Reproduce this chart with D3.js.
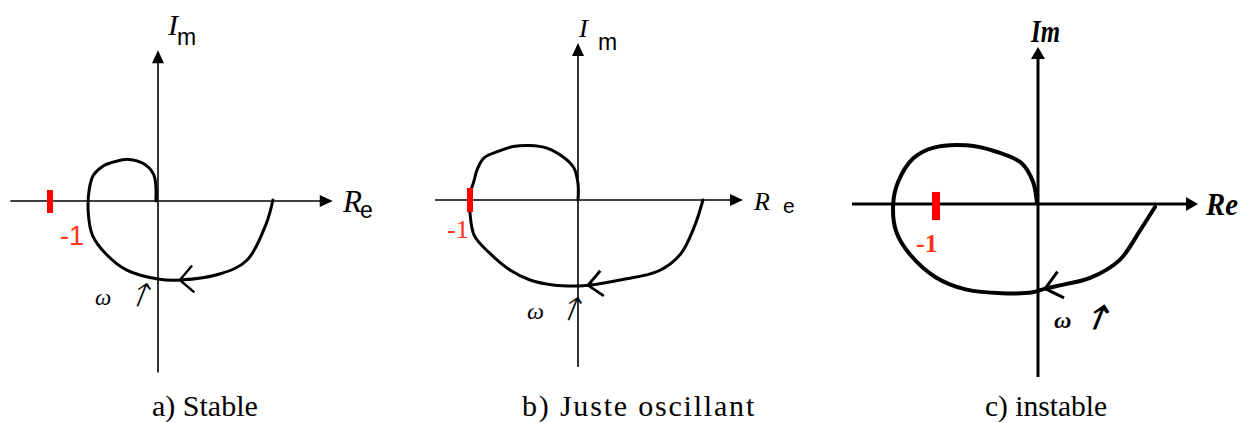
<!DOCTYPE html>
<html>
<head>
<meta charset="utf-8">
<script src="https://cdn.jsdelivr.net/npm/d3@7"></script>
<style>
  html, body { margin: 0; padding: 0; background: #fff; }
  svg { display: block; }
</style>
</head>
<body>
<svg id="chart" width="1252" height="423"></svg>
<script>
// Nyquist loci of the open-loop transfer function, [Re, Im] in units of the
// critical point (-1, 0), listed in order of increasing frequency ω.
const locusStable = [
  [1.105, 0.01], [1.04, -0.22], [0.855, -0.57], [0.60, -0.70], [0.21, -0.76],
  [0, -0.75], [-0.30, -0.665], [-0.50, -0.51], [-0.63, -0.33], [-0.67, -0.12],
  [-0.66, 0.12], [-0.62, 0.25], [-0.53, 0.335], [-0.41, 0.38], [-0.28, 0.40],
  [-0.14, 0.36], [-0.04, 0.25], [-0.02, 0]
];
const locusLimit = [
  [1.157, 0], [1.08, -0.24], [0.95, -0.50], [0.75, -0.655], [0.389, -0.741],
  [0.093, -0.79], [0, -0.796], [-0.231, -0.787], [-0.444, -0.741], [-0.63, -0.648],
  [-0.82, -0.49], [-0.96, -0.33], [-1.0, -0.12], [-1.0, 0.05], [-0.965, 0.17],
  [-0.93, 0.29], [-0.87, 0.39], [-0.74, 0.45], [-0.60, 0.495], [-0.45, 0.505],
  [-0.287, 0.481], [-0.14, 0.40], [-0.04, 0.30], [0, 0.15], [0, 0]
];
const locusUnstable = [
  [1.147, -0.03], [1.0, -0.26], [0.80, -0.55], [0.51, -0.725], [0.25, -0.79],
  [0.07, -0.83], [-0.05, -0.865], [-0.35, -0.875], [-0.70, -0.84], [-1.0, -0.72],
  [-1.25, -0.50], [-1.39, -0.27], [-1.42, 0.0], [-1.37, 0.22], [-1.22, 0.45],
  [-1.03, 0.55], [-0.70, 0.575], [-0.40, 0.51], [-0.16, 0.40], [-0.05, 0.22],
  [-0.01, 0.01]
];
// index of the point carrying the direction arrow on each locus
const arrowIndex = [4, 5, 5];
// critical point and its label
const criticalRe = -1;
const criticalLabel = "-1";
// axis extents [reMin, reMax, imMin, imMax]
const axisExtents = [
  [-1.42, 1.68, -1.65, 1.45],
  [-1.324, 1.528, -1.546, 1.454],
  [-1.824, 1.569, -1.696, 1.539]
];
const captions = ["a) Stable", "b) Juste oscillant", "c) instable"];

const svg = d3.select("#chart");
svg.append("rect").attr("width", 1252).attr("height", 423).attr("fill", "#fff");

const serif = "Liberation Serif";
const sans = "Liberation Sans";

// Layout and style of each panel
const layouts = [
  {
    locus: locusStable, ox: 158, oy: 201, k: 104,
    axisW: 1.6, curveW: 3, headL: 13, headH: 6,
    tick: { w: 6, top: 0.106, bottom: -0.115, dx: -4 },
    minus: { x: 60, y: 245, font: sans, size: 27, weight: "normal" },
    im: { kind: "split", ix: 168, iy: 35, isz: 30, mx: 177, my: 45, msz: 23 },
    re: { kind: "split", rx: 343, ry: 212, rsz: 31, ex: 360, ey: 218, esz: 23 },
    omega: { x: 95, y: 305, size: 23, ax: 130, ay: 306, asz: 32, afont: "FreeSerif", weight: "normal" },
    caption: { x: 152, size: 30, spacing: 0 },
    chevron: { len: 19, ang: 45, w: 2.4 }
  },
  {
    locus: locusLimit, ox: 578, oy: 200, k: 108,
    axisW: 1.6, curveW: 3, headL: 13, headH: 6,
    tick: { w: 6, top: 0.111, bottom: -0.111, dx: 0 },
    minus: { x: 447, y: 238, font: serif, size: 26, weight: "normal" },
    im: { kind: "split", ix: 579, iy: 37, isz: 26, mx: 598, my: 50, msz: 23 },
    re: { kind: "split", rx: 754, ry: 210, rsz: 26, ex: 783, ey: 213, esz: 21 },
    omega: { x: 527, y: 319, size: 24, ax: 561, ay: 320, asz: 32, afont: "FreeSerif", weight: "normal" },
    caption: { x: 522, size: 30, spacing: 1.8 },
    chevron: { len: 19, ang: 42, w: 2.8 }
  },
  {
    locus: locusUnstable, ox: 1038, oy: 204, k: 102,
    axisW: 3, curveW: 4, headL: 12, headH: 7,
    tick: { w: 8, top: 0.118, bottom: -0.157, dx: 0 },
    minus: { x: 916, y: 252, font: serif, size: 26, weight: "bold" },
    im: { kind: "bold", x: 1031, y: 42, size: 32, len: 29 },
    re: { kind: "bold", x: 1206, y: 215, size: 31, len: 32 },
    omega: { x: 1054, y: 328, size: 24, ax: 1086, ay: 329, asz: 34, afont: "FreeSerif", weight: "bold" },
    caption: { x: 985, size: 29.5, spacing: 0 },
    chevron: { len: 21, ang: 40, w: 3 }
  }
];

function label(g, x, y, txt, font, size, opts = {}) {
  const t = g.append("text").attr("x", x).attr("y", y)
    .style("font-family", font).style("font-size", size + "px")
    .style("font-style", opts.italic ? "italic" : "normal")
    .style("font-weight", opts.weight || "normal")
    .attr("fill", opts.fill || "#000")
    .text(txt);
  if (opts.spacing) t.style("letter-spacing", opts.spacing + "px");
  if (opts.len) t.attr("textLength", opts.len).attr("lengthAdjust", "spacingAndGlyphs");
  return t;
}

layouts.forEach((L, i) => {
  const ext = axisExtents[i];
  const x = d3.scaleLinear().domain([0, 1]).range([L.ox, L.ox + L.k]);
  const y = d3.scaleLinear().domain([0, 1]).range([L.oy, L.oy - L.k]);
  const g = svg.append("g");

  // Real axis with arrowhead
  const xEnd = x(ext[1]);
  g.append("line")
    .attr("x1", x(ext[0])).attr("x2", xEnd - L.headL + 1)
    .attr("y1", y(0)).attr("y2", y(0))
    .attr("stroke", "#000").attr("stroke-width", L.axisW);
  g.append("path")
    .attr("d", `M${xEnd},${y(0)} L${xEnd - L.headL},${y(0) - L.headH} L${xEnd - L.headL},${y(0) + L.headH} Z`)
    .attr("fill", "#000");

  // Imaginary axis with arrowhead
  const yEnd = y(ext[3]);
  g.append("line")
    .attr("x1", x(0)).attr("x2", x(0))
    .attr("y1", y(ext[2])).attr("y2", yEnd + L.headL - 1)
    .attr("stroke", "#000").attr("stroke-width", L.axisW);
  g.append("path")
    .attr("d", `M${x(0)},${yEnd} L${x(0) - L.headH},${yEnd + L.headL} L${x(0) + L.headH},${yEnd + L.headL} Z`)
    .attr("fill", "#000");

  // Locus
  const line = d3.line()
    .x(d => x(d[0])).y(d => y(d[1]))
    .curve(d3.curveCatmullRom.alpha(0.5));
  g.append("path")
    .attr("d", line(L.locus))
    .attr("fill", "none").attr("stroke", "#000")
    .attr("stroke-width", L.curveW)
    .attr("stroke-linejoin", "round").attr("stroke-linecap", "round");

  // Direction of increasing ω: chevron along the local tangent
  const ai = arrowIndex[i];
  const p = L.locus[ai], a = L.locus[ai - 1], b = L.locus[ai + 1];
  const tx = x(p[0]), ty = y(p[1]);
  const dir = Math.atan2(y(b[1]) - y(a[1]), x(b[0]) - x(a[0]));
  const back = dir + Math.PI;
  const a1 = back + L.chevron.ang * Math.PI / 180;
  const a2 = back - L.chevron.ang * Math.PI / 180;
  g.append("path")
    .attr("d", `M${tx + L.chevron.len * Math.cos(a1)},${ty + L.chevron.len * Math.sin(a1)} L${tx},${ty} L${tx + L.chevron.len * Math.cos(a2)},${ty + L.chevron.len * Math.sin(a2)}`)
    .attr("fill", "none").attr("stroke", "#000")
    .attr("stroke-width", L.chevron.w).attr("stroke-linejoin", "miter");

  // Critical point
  g.append("rect")
    .attr("x", x(criticalRe) - L.tick.w / 2 + L.tick.dx)
    .attr("y", y(L.tick.top))
    .attr("width", L.tick.w)
    .attr("height", y(L.tick.bottom) - y(L.tick.top))
    .attr("fill", "#ff0000");
  label(g, L.minus.x, L.minus.y, criticalLabel, L.minus.font, L.minus.size,
    { weight: L.minus.weight, fill: "#ff3311" });

  // Axis titles
  if (L.im.kind === "split") {
    label(g, L.im.ix, L.im.iy, "I", serif, L.im.isz, { italic: true });
    label(g, L.im.mx, L.im.my, "m", sans, L.im.msz);
    label(g, L.re.rx, L.re.ry, "R", serif, L.re.rsz, { italic: true });
    label(g, L.re.ex, L.re.ey, "e", sans, L.re.esz);
  } else {
    label(g, L.im.x, L.im.y, "Im", serif, L.im.size, { italic: true, weight: "bold", len: L.im.len });
    label(g, L.re.x, L.re.y, "Re", serif, L.re.size, { italic: true, weight: "bold", len: L.re.len });
  }

  // ω with rising arrow
  label(g, L.omega.x, L.omega.y, "ω", serif, L.omega.size, { italic: true, weight: L.omega.weight });
  g.append("text")
    .attr("transform", `translate(${L.omega.ax},${L.omega.ay}) skewX(-22)`)
    .style("font-family", L.omega.afont)
    .style("font-weight", L.omega.weight)
    .style("font-size", L.omega.asz + "px")
    .text("↑");

  // Caption
  label(g, L.caption.x, 416, captions[i], serif, L.caption.size, { spacing: L.caption.spacing });
});
</script>
</body>
</html>
